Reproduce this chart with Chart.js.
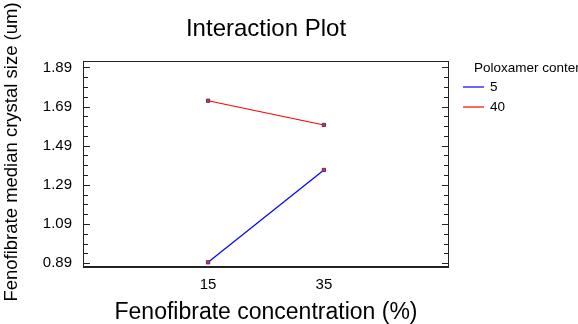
<!DOCTYPE html>
<html>
<head>
<meta charset="utf-8">
<script src="https://cdn.jsdelivr.net/npm/chart.js@4.4.1/dist/chart.umd.min.js"></script>
<style>
  html, body { margin: 0; padding: 0; background: #fff; }
  #wrap { width: 578px; height: 324px; position: relative; }
</style>
</head>
<body>
<div id="wrap"><canvas id="plot"></canvas></div>
<script>
// Interaction plot data
const concentrations = [15, 35];
const poloxamerLevels = ['5', '40'];
const sizeAt5 = [0.894, 1.366];
const sizeAt40 = [1.72, 1.596];
const yTickValues = [0.89, 1.09, 1.29, 1.49, 1.69, 1.89];
const yMinorStep = 0.05;

const FONT = "'Liberation Sans', Arial, sans-serif";

// frame, inward ticks, title, y title and legend
const decorations = {
    id: 'decorations',
    afterDraw(chart) {
        const ctx = chart.ctx;
        const area = chart.chartArea;
        const y = chart.scales.y;
        ctx.save();

        // box
        ctx.strokeStyle = '#222';
        ctx.lineWidth = 1;
        ctx.strokeRect(area.left + 0.5, area.top + 0.5, area.right - area.left - 1, area.bottom - area.top);
        ctx.lineWidth = 2;
        ctx.beginPath();
        ctx.moveTo(area.left, area.bottom);
        ctx.lineTo(area.right, area.bottom);
        ctx.stroke();

        // inward ticks on left and right
        ctx.lineWidth = 1;
        ctx.beginPath();
        for (let v = yTickValues[0]; v <= y.max + 1e-9; v += yMinorStep) {
            const py = Math.round(y.getPixelForValue(v)) + 0.5;
            const major = yTickValues.some(t => Math.abs(t - v) < 1e-6);
            const len = major ? 7 : 5;
            ctx.moveTo(area.left, py);
            ctx.lineTo(area.left + len, py);
            ctx.moveTo(area.right, py);
            ctx.lineTo(area.right - len, py);
        }
        ctx.stroke();

        // chart title
        ctx.fillStyle = '#000';
        ctx.textAlign = 'center';
        ctx.textBaseline = 'middle';
        ctx.font = '24px ' + FONT;
        ctx.fillText('Interaction Plot', (area.left + area.right) / 2, 29);

        // y axis title
        ctx.save();
        ctx.translate(12, 152);
        ctx.rotate(-Math.PI / 2);
        ctx.font = '18.5px ' + FONT;
        ctx.fillText('Fenofibrate median crystal size (um)', 0, 0);
        ctx.restore();

        // legend
        ctx.textAlign = 'left';
        ctx.font = '13.5px ' + FONT;
        ctx.fillText('Poloxamer content', 474, 68);
        chart.data.datasets.forEach((ds, i) => {
            const ly = 87 + i * 20;
            ctx.strokeStyle = ds.borderColor;
            ctx.lineWidth = 1.2;
            ctx.beginPath();
            ctx.moveTo(463, ly);
            ctx.lineTo(484, ly);
            ctx.stroke();
            ctx.fillStyle = '#000';
            ctx.fillText(ds.label, 490, ly);
        });
        ctx.restore();
    }
};

const toPoints = vals => concentrations.map((c, i) => ({ x: c, y: vals[i] }));

const pointOpts = {
    pointStyle: 'rect',
    pointRadius: 2.3,
    pointBackgroundColor: '#b0407a',
    pointBorderColor: '#7a1f5a',
    pointBorderWidth: 1
};

new Chart(document.getElementById('plot'), {
    type: 'line',
    data: {
        datasets: [
            { label: poloxamerLevels[0], data: toPoints(sizeAt5), borderColor: '#0000ff', borderWidth: 1.2, ...pointOpts },
            { label: poloxamerLevels[1], data: toPoints(sizeAt40), borderColor: '#ff0000', borderWidth: 1.2, ...pointOpts }
        ]
    },
    options: {
        responsive: true,
        maintainAspectRatio: false,
        animation: false,
        layout: { padding: { top: 61, right: 129, bottom: 0, left: 0 } },
        plugins: {
            legend: { display: false },
            title: { display: false },
            tooltip: { enabled: false }
        },
        scales: {
            x: {
                type: 'linear',
                min: -6.6,
                max: 56.6,
                afterFit: s => { s.height = 57; },
                afterBuildTicks: s => { s.ticks = concentrations.map(v => ({ value: v })); },
                grid: { display: false, drawTicks: false },
                border: { display: false },
                ticks: {
                    padding: 9,
                    color: '#000',
                    font: { family: FONT, size: 15 },
                    callback: v => String(v)
                },
                title: {
                    display: true,
                    text: 'Fenofibrate concentration (%)',
                    color: '#000',
                    font: { family: FONT, size: 23 },
                    padding: { top: 0, bottom: -2 }
                }
            },
            y: {
                min: 0.87,
                max: 1.923,
                afterFit: s => { s.width = 83; },
                afterBuildTicks: s => { s.ticks = yTickValues.map(v => ({ value: v })); },
                grid: { display: false, drawTicks: false },
                border: { display: false },
                ticks: {
                    padding: 11,
                    color: '#000',
                    font: { family: FONT, size: 15 },
                    callback: v => v.toFixed(2)
                }
            }
        }
    },
    plugins: [decorations]
});
</script>
</body>
</html>
